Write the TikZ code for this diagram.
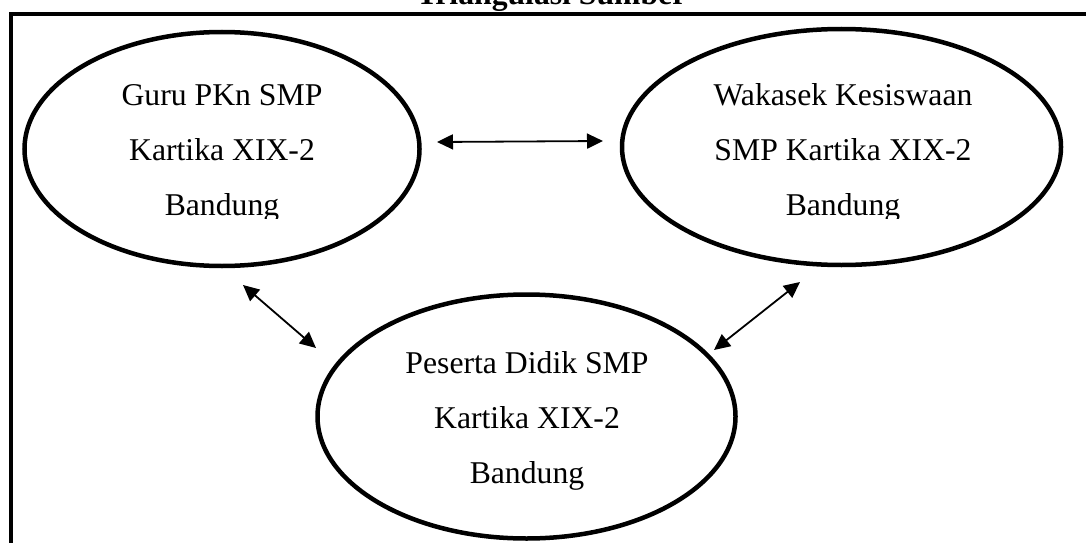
\documentclass[tikz,border=0pt]{standalone}
\usepackage{fontspec}
\setmainfont{Liberation Serif}
\usetikzlibrary{shapes.geometric,arrows.meta}
\begin{document}
\begin{tikzpicture}[x=1pt,y=-1pt,
  ell/.style={draw, ellipse, line width=4.5pt, inner sep=0pt},
  txt/.style={anchor=base, inner sep=0pt, font=\fontsize{31.7}{38}\selectfont},
  ttl/.style={anchor=base, inner sep=0pt, font=\fontsize{31.7}{38}\selectfont\bfseries},
  arr/.style={line width=1.8pt, {Triangle[length=16pt,width=15pt]}-{Triangle[length=16pt,width=15pt]}},
  frm/.style={line width=4pt}]
\useasboundingbox (0,0) rectangle (1086,543);
% frame (right and bottom sides lie outside the picture)
\coordinate (fbl) at (10.5,620);
\coordinate (ftr) at (1120,14);
\draw[frm] (fbl) |- (ftr);
% title, cut off at the top
\node[ttl] (title) at (551.5,5) {Triangulasi Sumber};
% ellipses
\node[ell, minimum width=395pt, minimum height=234pt] (guru) at (222,149) {};
\node[ell, minimum width=439pt, minimum height=236pt] (waka) at (841.5,147) {};
\node[ell, minimum width=418pt, minimum height=244pt] (siswa) at (526.5,416.5) {};
% texts of the upper ellipses (descenders of the last line are cut)
\begin{scope}
\clip (0,0) rectangle (1086,218);
\node[txt] (g1) at (222,105) {Guru PKn SMP};
\node[txt] (g2) at (222,160) {Kartika XIX-2};
\node[txt] (g3) at (222,215) {Bandung};
\node[txt] (w1) at (843,105) {Wakasek Kesiswaan};
\node[txt] (w2) at (843,160) {SMP Kartika XIX-2};
\node[txt] (w3) at (843,215) {Bandung};
\end{scope}
\node[txt] (s1) at (527,373) {Peserta Didik SMP};
\node[txt] (s2) at (527,428) {Kartika XIX-2};
\node[txt] (s3) at (527,483) {Bandung};
% arrow ends
\coordinate (h1) at (437,142);
\coordinate (h2) at (603,141);
\coordinate (l1) at (243,285);
\coordinate (l2) at (316,348);
\coordinate (r1) at (800,282);
\coordinate (r2) at (714,350);
\draw[arr] (h1) -- (h2);
\draw[arr] (l1) -- (l2);
\draw[arr] (r1) -- (r2);
\end{tikzpicture}
\end{document}
